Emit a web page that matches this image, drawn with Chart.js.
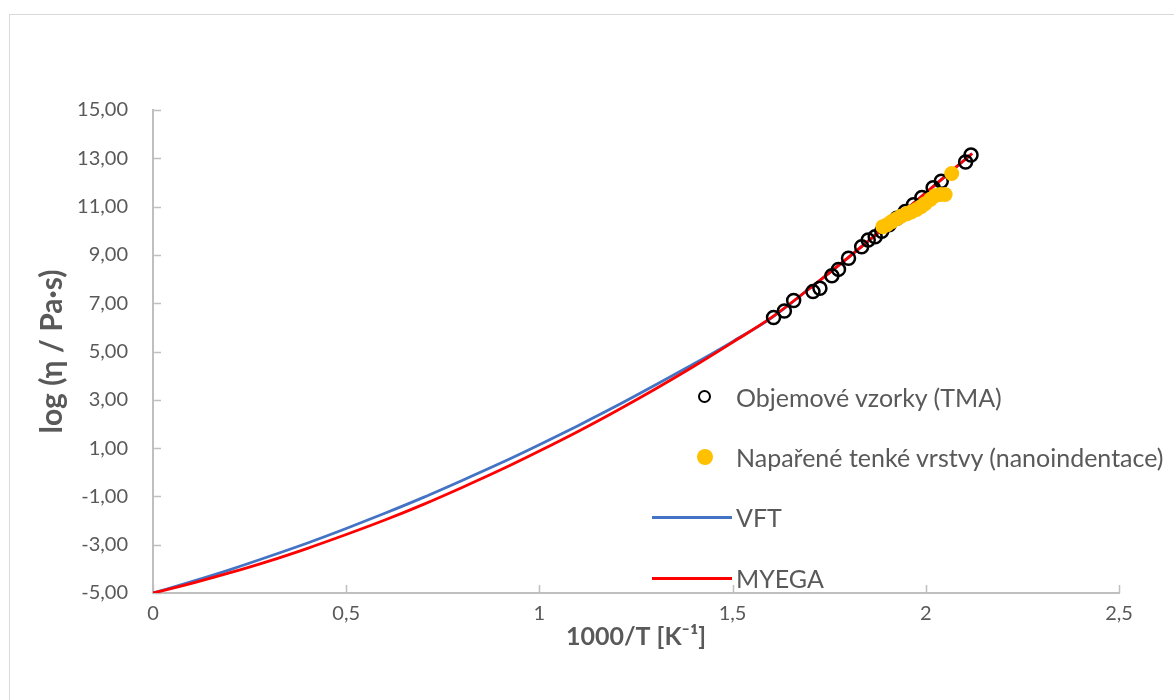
<!DOCTYPE html>
<html>
<head>
<meta charset="utf-8">
<title>Viskozita</title>
<script src="https://cdn.jsdelivr.net/npm/chart.js@4.4.0/dist/chart.umd.min.js"></script>
<style>
    body { margin: 0; background: #fff; overflow: hidden; }
    #wrap { position: relative; width: 1174px; height: 700px; }
    #frame { position: absolute; left: 9px; top: 14px; width: 1220px; height: 760px; border: 1px solid #d9d9d9; box-sizing: border-box; }
    #viscChart { position: absolute; left: 0; top: 0; }
    .leg-item { position: absolute; left: 640px; height: 40px; font-family: Lato, sans-serif; font-size: 25px; color: #595959; display: flex; align-items: center; white-space: nowrap; }
    .leg-mark { position: relative; width: 96px; height: 40px; }
</style>
</head>
<body>
<div id="wrap">
    <div id="frame"></div>
    <canvas id="viscChart" width="1174" height="700"></canvas>
    <div id="legend"></div>
</div>
<script>
/* =========================================
   log(viskozita) vs 1000/T - TMA, nanoindentace, VFT a MYEGA
   ========================================= */

// Objemové vzorky (TMA)
const tmaX = [1.606, 1.634, 1.658, 1.708, 1.726, 1.757, 1.774, 1.800, 1.834, 1.851, 1.869,
              1.886, 1.905, 1.925, 1.947, 1.968, 1.990, 2.019, 2.040, 2.103, 2.117];
const tmaY = [6.41, 6.68, 7.11, 7.48, 7.62, 8.14, 8.40, 8.86, 9.34, 9.62, 9.75,
              9.98, 10.25, 10.52, 10.80, 11.08, 11.38, 11.78, 12.05, 12.85, 13.14];

// Napařené tenké vrstvy (nanoindentace)
const nanoX = [1.889, 1.900, 1.912, 1.925, 1.936, 1.950, 1.962, 1.976, 1.988, 1.998, 2.012, 2.024, 2.037, 2.050, 2.067];
const nanoY = [10.17, 10.25, 10.38, 10.50, 10.60, 10.70, 10.78, 10.88, 11.00, 11.12, 11.30, 11.45, 11.50, 11.50, 12.37];

// Modelové křivky (odečteno po 0,1)
const fitX   = [0, 0.1, 0.2, 0.3, 0.4, 0.5, 0.6, 0.7, 0.8, 0.9, 1.0, 1.1, 1.2, 1.3, 1.4, 1.5, 1.6,
                1.7, 1.8, 1.9, 2.0, 2.1, 2.12];
const vftY   = [-5.00, -4.53, -4.03, -3.49, -2.93, -2.33, -1.70, -1.04, -0.34, 0.38, 1.14, 1.93, 2.75, 3.61, 4.49, 5.41, 6.38,
                7.62, 8.90, 10.22, 11.57, 12.93, 13.20];
const myegaY = [-5.00, -4.60, -4.16, -3.68, -3.15, -2.58, -1.98, -1.33, -0.63, 0.10, 0.88, 1.69, 2.55, 3.45, 4.39, 5.38, 6.40,
                7.62, 8.90, 10.22, 11.57, 12.93, 13.20];

const seriesNames = ['Objemové vzorky (TMA)', 'Napařené tenké vrstvy (nanoindentace)', 'VFT', 'MYEGA'];

const xTitle = '1000/T [K⁻¹]';
const yTitle = 'log (η / Pa·s)';

const GREY = '#595959';
const AXIS = '#bfbfbf';

const toPoints = (xs, ys) => xs.map((x, i) => ({ x: x, y: ys[i] }));
const comma = v => String(v).replace('.', ',');

// tick marks pointing into the plot area
const innerTicks = {
    id: 'innerTicks',
    beforeDatasetsDraw(chart) {
        const { ctx, chartArea, scales } = chart;
        ctx.save();
        ctx.strokeStyle = AXIS;
        ctx.lineWidth = 1.5;
        scales.x.ticks.forEach(t => {
            const px = Math.round(scales.x.getPixelForValue(t.value)) + 0.5;
            ctx.beginPath();
            ctx.moveTo(px, chartArea.bottom);
            ctx.lineTo(px, chartArea.bottom - 8);
            ctx.stroke();
        });
        scales.y.ticks.forEach(t => {
            const py = Math.round(scales.y.getPixelForValue(t.value)) + 0.5;
            ctx.beginPath();
            ctx.moveTo(chartArea.left, py);
            ctx.lineTo(chartArea.left + 8, py);
            ctx.stroke();
        });
        ctx.restore();
    }
};

const datasets = [
    {
        label: seriesNames[0],
        data: toPoints(tmaX, tmaY),
        pointRadius: 6.5,
        pointBorderWidth: 2.5,
        pointBorderColor: '#000',
        pointBackgroundColor: 'rgba(0,0,0,0)',
        showLine: false,
        order: 1
    },
    {
        label: seriesNames[1],
        data: toPoints(nanoX, nanoY),
        pointRadius: 7.5,
        pointBorderWidth: 0,
        pointBackgroundColor: '#ffc000',
        showLine: false,
        order: 0
    },
    {
        label: seriesNames[2],
        data: toPoints(fitX, vftY),
        borderColor: '#4472c4',
        borderWidth: 2.8,
        pointRadius: 0,
        showLine: true,
        cubicInterpolationMode: 'monotone',
        order: 3
    },
    {
        label: seriesNames[3],
        data: toPoints(fitX, myegaY),
        borderColor: '#ff0000',
        borderWidth: 2.8,
        pointRadius: 0,
        showLine: true,
        cubicInterpolationMode: 'monotone',
        order: 2
    }
];

new Chart(document.getElementById('viscChart'), {
    type: 'scatter',
    data: { datasets: datasets },
    options: {
        responsive: false,
        animation: false,
        devicePixelRatio: 1,
        layout: { padding: { top: 110, right: 55, left: 0, bottom: 0 } },
        plugins: { legend: { display: false }, tooltip: { enabled: false } },
        scales: {
            x: {
                type: 'linear',
                min: 0,
                max: 2.5,
                afterFit: s => { s.height = 107; },
                grid: { display: false, drawTicks: false },
                border: { display: true, color: AXIS, width: 2 },
                ticks: {
                    stepSize: 0.5,
                    padding: 9,
                    color: GREY,
                    font: { family: 'Lato', size: 20 },
                    callback: v => comma(v)
                },
                title: {
                    display: true,
                    text: xTitle,
                    color: GREY,
                    font: { family: 'Lato', size: 25, weight: 'bold' },
                    padding: { top: 0, bottom: 48 }
                }
            },
            y: {
                type: 'linear',
                min: -5,
                max: 15,
                afterFit: s => { s.width = 153; },
                grid: { display: false, drawTicks: false },
                border: { display: true, color: AXIS, width: 2 },
                ticks: {
                    stepSize: 2,
                    padding: 25,
                    color: GREY,
                    font: { family: 'Lato', size: 20 },
                    callback: v => v.toFixed(2).replace('.', ',')
                },
                title: {
                    display: true,
                    text: yTitle,
                    color: GREY,
                    font: { family: 'Lato', size: 30, weight: 'bold' },
                    padding: { top: 34, bottom: 0 }
                }
            }
        }
    },
    plugins: [innerTicks]
});

// legenda uvnitř grafu
const legendTop = [377, 437, 497, 558];
const legend = document.getElementById('legend');
datasets.forEach((ds, i) => {
    const item = document.createElement('div');
    item.className = 'leg-item';
    item.style.top = legendTop[i] + 'px';
    let mark;
    if (ds.showLine) {
        mark = `<div class="leg-mark"><div style="position:absolute;left:12px;right:4px;top:19px;height:2.5px;background:${ds.borderColor}"></div></div>`;
    } else if (ds.pointBorderWidth) {
        mark = `<div class="leg-mark"><div style="position:absolute;left:58px;top:13px;width:9px;height:9px;border:2.8px solid #000;border-radius:50%"></div></div>`;
    } else {
        mark = `<div class="leg-mark"><div style="position:absolute;left:57px;top:12px;width:16px;height:16px;background:${ds.pointBackgroundColor};border-radius:50%"></div></div>`;
    }
    item.innerHTML = mark + `<span>${ds.label}</span>`;
    legend.appendChild(item);
});
</script>
</body>
</html>
